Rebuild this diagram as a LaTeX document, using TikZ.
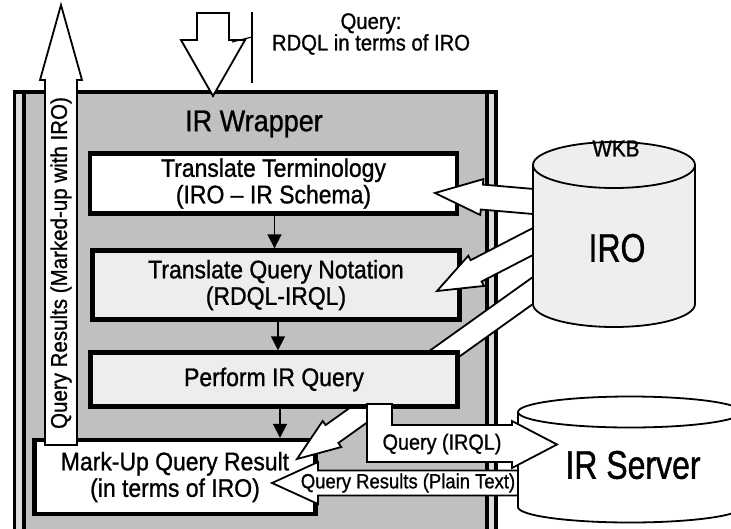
\documentclass[tikz,border=0pt]{standalone}
\usepackage{fontspec}
\setmainfont{Liberation Sans}[FakeStretch=0.9,FakeBold=1]
\newfontfamily\narrowfont{Liberation Sans}[FakeStretch=0.8,FakeBold=1]
\usetikzlibrary{calc,arrows.meta}
\definecolor{wrapgrey}{HTML}{C0C0C0}
\definecolor{stripgrey}{HTML}{DCDCDC}
\definecolor{boxgrey}{HTML}{EDEDED}
\definecolor{cylgrey}{HTML}{EEEEEE}
% block arrow: [style] tail, tip, shaft half width, head half width, head length
\newcommand\mkblockarrow[6][]{%
  \draw[barrow,#1] ($(#2)!#4!90:(#3)$) -- ($(#3)!#6!(#2)!#4!90:(#3)$) --
    ($(#3)!#6!(#2)!#5!90:(#3)$) -- (#3) -- ($(#3)!#6!(#2)!#5!-90:(#3)$) --
    ($(#3)!#6!(#2)!#4!-90:(#3)$) -- ($(#2)!#4!-90:(#3)$) -- cycle;}
% cylinder: cx, top y, bottom y, rx, ry, fill
\newcommand\mkcylinder[6]{%
  \filldraw[cyl,fill=#6] (#1,#3) ellipse [x radius=#4, y radius=#5];
  \fill[#6] (#1-#4,#2) rectangle (#1+#4,#3);
  \draw[cyl] (#1-#4,#2) -- (#1-#4,#3) (#1+#4,#2) -- (#1+#4,#3);
  \filldraw[cyl,fill=#6] (#1,#2) ellipse [x radius=#4, y radius=#5];}
\begin{document}
\begin{tikzpicture}[x=1pt,y=-1pt,
  barrow/.style={draw=black,fill=white,line width=1.8pt,line join=miter},
  cyl/.style={draw=black,line width=1.8pt},
  procbox/.style={draw=black,line width=4.5pt,inner sep=0pt,outer sep=2.2pt,
    align=center,font=\fontsize{25.5}{26.5}\selectfont},
  smallarrow/.style={draw=black,line width=1.8pt,-{Triangle[width=14pt,length=14pt]}},
  lbl/.style={inner sep=0pt,align=center}]
\useasboundingbox (0,0) rectangle (731,528);
\clip (0,0) rectangle (731,528);
% wrapper
\fill[wrapgrey] (14.5,92) rectangle (496,540);
\fill[stripgrey] (16,94) rectangle (22,540);
\fill[stripgrey] (489,94) rectangle (494,540);
\draw[line width=3.5pt] (14.5,540) -- (14.5,92) -- (496,92) -- (496,540);
\draw[line width=4pt] (24,92) -- (24,540);
\draw[line width=4pt] (487,92) -- (487,540);
\node[lbl,font=\fontsize{30}{32}\selectfont] (title) at (254,124) {IR Wrapper};
% process boxes
\node[procbox,fill=white,minimum width=367pt,minimum height=60pt] (b1) at (273.5,183.5)
  {Translate Terminology\\(IRO – IR Schema)};
\node[procbox,fill=boxgrey,minimum width=367pt,minimum height=69pt] (b2) at (276,285)
  {Translate Query Notation\\(RDQL-IRQL)};
\node[procbox,fill=white,minimum width=281pt,minimum height=74pt] (b4) at (175,477)
  {Mark-Up Query Result\\(in terms of IRO)};
\draw[smallarrow] ([xshift=1pt]b1.south) -- ([xshift=1pt]b1.south |- b2.north);
% up arrow (results)
\coordinate (upt) at (61,445);
\coordinate (uph) at (61,5);
\mkblockarrow{upt}{uph}{16pt}{21pt}{75pt}
\node[lbl,rotate=90,font=\fontsize{22.8}{24}\selectfont] (uplbl) at (61,263)
  {Query Results (Marked-up with IRO)};
% down arrow (query)
\coordinate (dnt) at (213,13);
\coordinate (dnh) at (213,96);
\mkblockarrow{dnt}{dnh}{16pt}{32pt}{56pt}
% long arrow from IRO to mark-up
\coordinate (a3t) at (545,281.9);
\coordinate (a3h) at (297,459);
\mkblockarrow{a3t}{a3h}{11pt}{16pt}{43pt}
% perform box
\node[procbox,fill=boxgrey,minimum width=367pt,minimum height=54pt] (b3) at (274,379.5)
  {Perform IR Query};
\draw[smallarrow] ([xshift=2pt]b2.south) -- ([xshift=2pt]b2.south |- b3.north);
\draw[smallarrow] ([xshift=6pt]b3.south) -- ([xshift=6pt]b3.south |- b4.north);
% arrows from IRO
\coordinate (a1t) at (545,202.5);
\coordinate (a1h) at (435,193);
\mkblockarrow{a1t}{a1h}{12.5pt}{18pt}{47pt}
\coordinate (a2t) at (545,235.3);
\coordinate (a2h) at (437,291);
\mkblockarrow{a2t}{a2h}{12pt}{17pt}{44pt}
% plain text results arrow
\coordinate (a5t) at (535,483);
\coordinate (a5h) at (272,483);
\mkblockarrow{a5t}{a5h}{12.5pt}{21pt}{46pt}
% cylinders
\mkcylinder{614}{165}{304}{81}{23}{cylgrey}
\node[lbl,font=\fontsize{23}{24}\selectfont] (wkb) at (616,148.5) {WKB};
\node[lbl,font=\narrowfont\fontsize{40}{42}\selectfont] (iro) at (617,248) {IRO};
\mkcylinder{630}{412}{507}{112}{15.5}{white}
\node[lbl,font=\narrowfont\fontsize{40}{42}\selectfont] (irs) at (633,465) {IR Server};
% query (IRQL) arrow
\draw[barrow] (367,404) -- (392,404) -- (392,425) -- (512,425) -- (512,421)
  -- (557,444.5) -- (512,468) -- (512,462) -- (367,462) -- cycle;
\node[lbl,font=\fontsize{22}{23}\selectfont] (qirql) at (442,444) {Query (IRQL)};
\node[lbl,font=\fontsize{20.5}{21}\selectfont] (qres) at (408,483) {Query Results (Plain Text)};
% query label and callout
\node[lbl,font=\fontsize{22.5}{21.5}\selectfont] (qlbl) at (371,34) {Query:\\RDQL in terms of IRO};
\coordinate (cl1) at (252,12);
\coordinate (cl2) at (252,83);
\coordinate (cl3) at (232,42);
\coordinate (cl4) at (252,37);
\draw[line width=1.5pt] (cl1) -- (cl2);
\draw[line width=1.2pt] (cl3) -- (cl4);
\end{tikzpicture}
\end{document}
